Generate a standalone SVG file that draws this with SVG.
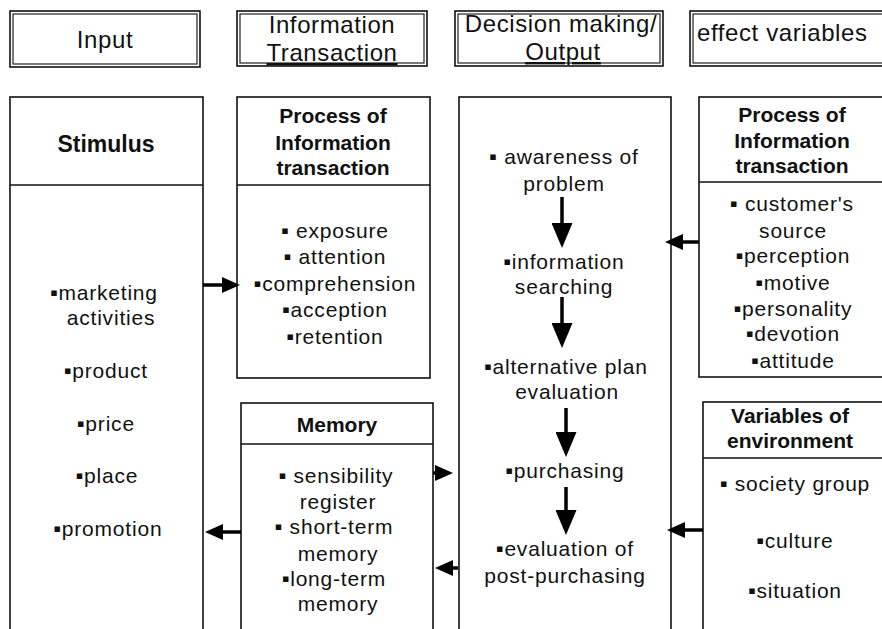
<svg xmlns="http://www.w3.org/2000/svg" width="882" height="629" viewBox="0 0 882 629">
<defs>
<style>
.bg{fill:#fff}
.box{fill:#fff;stroke:#111;stroke-width:1.6}
.dbl{fill:none;stroke:#222;stroke-width:1.2}
.hd{font-family:"Liberation Sans",Arial,sans-serif;font-size:24px;letter-spacing:0.6px;fill:#111;text-anchor:middle}
.ti{font-family:"Liberation Sans",Arial,sans-serif;font-size:21px;font-weight:bold;fill:#111;text-anchor:middle}
.tx{font-family:"Liberation Sans",Arial,sans-serif;font-size:21px;letter-spacing:0.8px;fill:#111;text-anchor:middle}
.b{font-family:"DejaVu Sans",sans-serif;font-size:11px}
.ul{text-decoration:underline}
.cn{stroke:#000;stroke-width:3.5;fill:none}
</style>
<marker id="ah" markerUnits="userSpaceOnUse" markerWidth="18" markerHeight="16" refX="2" refY="8" orient="auto">
<path d="M0,0 L18,8 L0,16 z" fill="#000"/>
</marker>
<marker id="ad" markerUnits="userSpaceOnUse" markerWidth="25" markerHeight="21" refX="3" refY="10.5" orient="auto">
<path d="M0,0 L25,10.5 L0,21 z" fill="#000"/>
</marker>
</defs>
<rect class="bg" x="0" y="0" width="882" height="629"/>

<g id="hdr-input">
<rect class="box" x="10" y="11" width="190" height="56"/>
<rect class="dbl" x="13" y="14" width="184" height="50"/>
<text class="hd" x="105" y="48">Input</text>
</g>
<g id="hdr-info">
<rect class="box" x="237" y="11" width="190" height="55"/>
<rect class="dbl" x="240" y="14" width="184" height="49"/>
<text class="hd" x="332" y="33">Information</text>
<text class="hd ul" x="332" y="61">Transaction</text>
</g>
<g id="hdr-decision">
<rect class="box" x="455" y="11" width="208" height="55"/>
<rect class="dbl" x="458" y="14" width="202" height="49"/>
<text class="hd" x="561" y="32">Decision making/</text>
<text class="hd ul" x="563" y="60">Output</text>
</g>
<g id="hdr-effect">
<rect class="box" x="690" y="11" width="220" height="55"/>
<rect class="dbl" x="693" y="14" width="214" height="49"/>
<text class="hd" x="697" y="41" style="text-anchor:start">effect variables</text>
</g>

<g id="stimulus">
<rect class="box" x="10" y="97" width="193" height="600"/>
<line class="box" x1="10" y1="185" x2="203" y2="185"/>
<text class="ti" x="106" y="152" style="font-size:23px">Stimulus</text>
<text class="tx" x="104" y="300"><tspan class="b" baseline-shift="4">▪</tspan>marketing</text>
<text class="tx" x="111" y="325">activities</text>
<text class="tx" x="106" y="378"><tspan class="b" baseline-shift="4">▪</tspan>product</text>
<text class="tx" x="106" y="431"><tspan class="b" baseline-shift="4">▪</tspan>price</text>
<text class="tx" x="107" y="483"><tspan class="b" baseline-shift="4">▪</tspan>place</text>
<text class="tx" x="108" y="536"><tspan class="b" baseline-shift="4">▪</tspan>promotion</text>
</g>

<g id="process">
<rect class="box" x="237" y="97" width="193" height="281"/>
<line class="box" x1="237" y1="185" x2="430" y2="185"/>
<text class="ti" x="333" y="123">Process of</text>
<text class="ti" x="333" y="150">Information</text>
<text class="ti" x="333" y="175">transaction</text>
<text class="tx" x="335" y="238"><tspan class="b" baseline-shift="4">▪</tspan> exposure</text>
<text class="tx" x="335" y="264"><tspan class="b" baseline-shift="4">▪</tspan> attention</text>
<text class="tx" x="335" y="291"><tspan class="b" baseline-shift="4">▪</tspan>comprehension</text>
<text class="tx" x="335" y="317"><tspan class="b" baseline-shift="4">▪</tspan>acception</text>
<text class="tx" x="335" y="344"><tspan class="b" baseline-shift="4">▪</tspan>retention</text>
</g>

<g id="memory">
<rect class="box" x="241" y="403" width="192" height="300"/>
<line class="box" x1="241" y1="444" x2="433" y2="444"/>
<text class="ti" x="337" y="432">Memory</text>
<text class="tx" x="336" y="483"><tspan class="b" baseline-shift="4">▪</tspan> sensibility</text>
<text class="tx" x="338" y="509">register</text>
<text class="tx" x="334" y="534"><tspan class="b" baseline-shift="4">▪</tspan> short-term</text>
<text class="tx" x="338" y="561">memory</text>
<text class="tx" x="334" y="586"><tspan class="b" baseline-shift="4">▪</tspan>long-term</text>
<text class="tx" x="338" y="611">memory</text>
</g>

<g id="decision">
<rect class="box" x="459" y="97" width="212" height="600"/>
<text class="tx" x="564" y="164"><tspan class="b" baseline-shift="4">▪</tspan> awareness of</text>
<text class="tx" x="564" y="191">problem</text>
<text class="tx" x="564" y="269"><tspan class="b" baseline-shift="4">▪</tspan>information</text>
<text class="tx" x="564" y="294">searching</text>
<text class="tx" x="566" y="374"><tspan class="b" baseline-shift="4">▪</tspan>alternative plan</text>
<text class="tx" x="567" y="399">evaluation</text>
<text class="tx" x="565" y="478"><tspan class="b" baseline-shift="4">▪</tspan>purchasing</text>
<text class="tx" x="565" y="556"><tspan class="b" baseline-shift="4">▪</tspan>evaluation of</text>
<text class="tx" x="565" y="583">post-purchasing</text>
</g>

<g id="effect-process">
<rect class="box" x="699" y="97" width="200" height="280"/>
<line class="box" x1="699" y1="182" x2="899" y2="182"/>
<text class="ti" x="792" y="122">Process of</text>
<text class="ti" x="792" y="148">Information</text>
<text class="ti" x="792" y="173">transaction</text>
<text class="tx" x="792" y="211"><tspan class="b" baseline-shift="4">▪</tspan> customer's</text>
<text class="tx" x="793" y="238">source</text>
<text class="tx" x="793" y="263"><tspan class="b" baseline-shift="4">▪</tspan>perception</text>
<text class="tx" x="793" y="290"><tspan class="b" baseline-shift="4">▪</tspan>motive</text>
<text class="tx" x="793" y="316"><tspan class="b" baseline-shift="4">▪</tspan>personality</text>
<text class="tx" x="793" y="341"><tspan class="b" baseline-shift="4">▪</tspan>devotion</text>
<text class="tx" x="793" y="368"><tspan class="b" baseline-shift="4">▪</tspan>attitude</text>
</g>

<g id="environment">
<rect class="box" x="703" y="402" width="200" height="300"/>
<line class="box" x1="703" y1="458" x2="903" y2="458"/>
<text class="ti" x="790" y="423">Variables of</text>
<text class="ti" x="790" y="448">environment</text>
<text class="tx" x="795" y="491"><tspan class="b" baseline-shift="4">▪</tspan> society group</text>
<text class="tx" x="795" y="548"><tspan class="b" baseline-shift="4">▪</tspan>culture</text>
<text class="tx" x="795" y="598"><tspan class="b" baseline-shift="4">▪</tspan>situation</text>
</g>

<g id="connectors">
<line class="cn" x1="203" y1="285" x2="224" y2="285" marker-end="url(#ah)"/>
<line class="cn" x1="241" y1="532" x2="221" y2="532" marker-end="url(#ah)"/>
<line class="cn" x1="433" y1="473" x2="437" y2="473" marker-end="url(#ah)"/>
<line class="cn" x1="458" y1="568" x2="451" y2="568" marker-end="url(#ah)"/>
<line class="cn" x1="699" y1="242" x2="681" y2="242" marker-end="url(#ah)"/>
<line class="cn" x1="703" y1="530" x2="683" y2="530" marker-end="url(#ah)"/>
<line class="cn" x1="562" y1="197" x2="562" y2="226" marker-end="url(#ad)"/>
<line class="cn" x1="562" y1="297" x2="562" y2="326" marker-end="url(#ad)"/>
<line class="cn" x1="566" y1="408" x2="566" y2="435" marker-end="url(#ad)"/>
<line class="cn" x1="566" y1="487" x2="566" y2="513" marker-end="url(#ad)"/>
</g>
</svg>
